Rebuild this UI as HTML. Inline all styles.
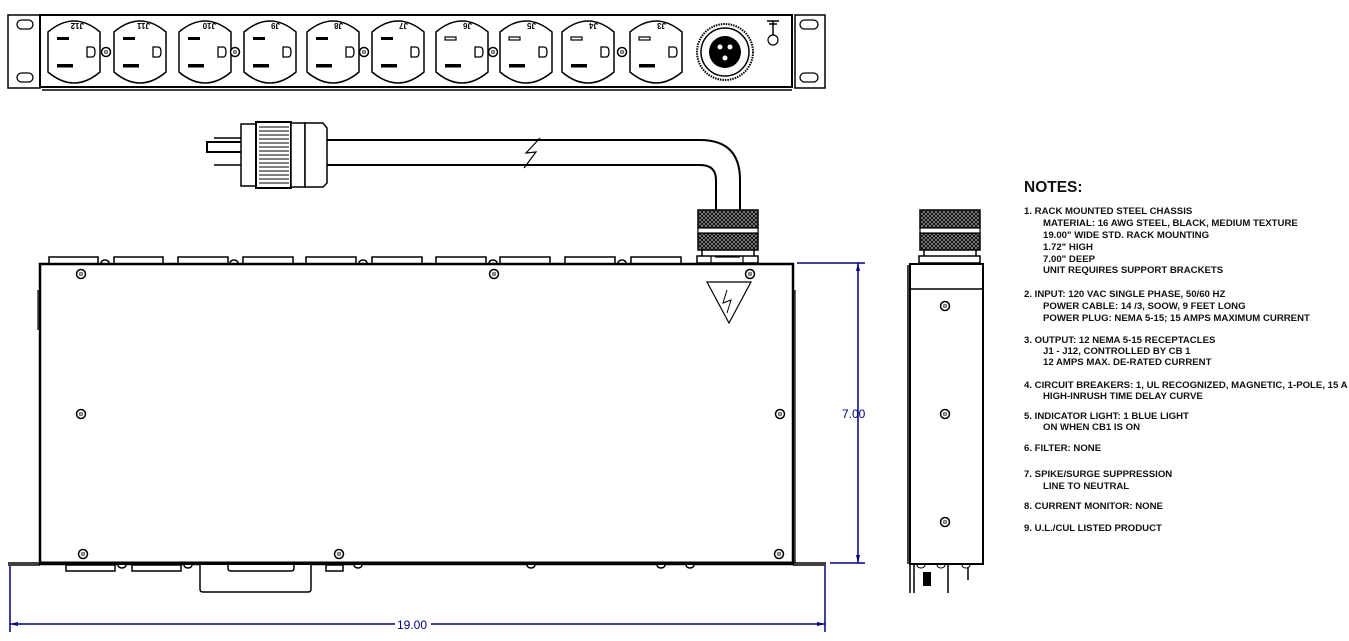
<!DOCTYPE html>
<html><head><meta charset="utf-8"><style>
html,body{margin:0;padding:0;background:#fff;}
svg{display:block;}
.n{font-family:"Liberation Sans",Arial,sans-serif;font-weight:bold;font-size:9.6px;fill:#111;}
</style></head><body>
<svg width="1349" height="641" viewBox="0 0 1349 641" xmlns="http://www.w3.org/2000/svg">
<defs>
<g id="out">
<path d="M-26,-20 Q0,-42 26,-20 L26,20 Q0,42 -26,20 Z" fill="#fff" stroke="#000" stroke-width="1.5"/>
<rect x="-17" y="-15" width="12" height="3" fill="#000"/>
<rect x="-17" y="12" width="16" height="3.5" fill="#000"/>
<path d="M13,-5 L18,-5 Q21,-5 21,0 Q21,5 18,5 L13,5 Z" fill="none" stroke="#000" stroke-width="1.3"/>
</g>
<g id="out2">
<path d="M-26,-20 Q0,-42 26,-20 L26,20 Q0,42 -26,20 Z" fill="#fff" stroke="#000" stroke-width="1.5"/>
<rect x="-17" y="-15" width="11" height="3" fill="none" stroke="#000" stroke-width="1.2"/>
<rect x="-17" y="12" width="16" height="3.5" fill="#000"/>
<path d="M13,-5 L18,-5 Q21,-5 21,0 Q21,5 18,5 L13,5 Z" fill="none" stroke="#000" stroke-width="1.3"/>
</g>
<g id="scr"><circle r="4.5" fill="#fff" stroke="#000" stroke-width="1.5"/><circle r="2" fill="#000"/><path d="M-2,0H2M0,-2V2" stroke="#fff" stroke-width="0.8"/></g>
<pattern id="knurl" width="4" height="4" patternUnits="userSpaceOnUse"><rect width="4" height="4" fill="#000"/><path d="M0,0L4,4M4,0L0,4" stroke="#888" stroke-width="0.8"/></pattern>
</defs>
<g fill="none" stroke="#000" stroke-width="2">
<!-- top panel -->
<rect x="8" y="15" width="32" height="73" stroke-width="1.5"/>
<rect x="17" y="20" width="16" height="9" rx="4.5" stroke-width="1.3"/>
<rect x="17" y="73" width="16" height="9" rx="4.5" stroke-width="1.3"/>
<rect x="40" y="15" width="752" height="72"/>
<path d="M42,90H792" stroke-width="1.5"/>
<rect x="795" y="15" width="30" height="73" stroke-width="1.5"/>
<rect x="800" y="20" width="18" height="9" rx="4.5" stroke-width="1.3"/>
<rect x="800" y="73" width="18" height="9" rx="4.5" stroke-width="1.3"/>
</g>
<use href="#out" x="74" y="52"/><use href="#out" x="140" y="52"/><use href="#out" x="205" y="52"/>
<use href="#out" x="270" y="52"/><use href="#out" x="333" y="52"/><use href="#out" x="398" y="52"/>
<use href="#out2" x="462" y="52"/><use href="#out2" x="526" y="52"/><use href="#out2" x="588" y="52"/><use href="#out2" x="656" y="52"/>
<use href="#scr" x="106" y="52"/><use href="#scr" x="235" y="52"/><use href="#scr" x="364" y="52"/><use href="#scr" x="493" y="52"/><use href="#scr" x="622" y="52"/>
<g font-family="Liberation Sans,sans-serif" font-size="8" font-weight="bold" fill="#000">
<text transform="translate(84,23) rotate(180)">J12</text><text transform="translate(150,23) rotate(180)">J11</text>
<text transform="translate(216,23) rotate(180)">J10</text><text transform="translate(280,23) rotate(180)">J9</text>
<text transform="translate(343,23) rotate(180)">J8</text><text transform="translate(408,23) rotate(180)">J7</text>
<text transform="translate(472,23) rotate(180)">J6</text><text transform="translate(536,23) rotate(180)">J5</text>
<text transform="translate(598,23) rotate(180)">J4</text><text transform="translate(666,23) rotate(180)">J3</text>
</g>
<circle cx="725" cy="52" r="28" fill="#fff" stroke="#000" stroke-width="2" stroke-dasharray="1.5 1"/>
<circle cx="725" cy="52" r="24" fill="#fff" stroke="#000" stroke-width="1.5"/>
<circle cx="725" cy="52" r="16" fill="#000"/>
<circle cx="720" cy="47" r="2.5" fill="#fff"/><circle cx="730" cy="47" r="2.5" fill="#fff"/><circle cx="725" cy="58" r="2.5" fill="#fff"/>
<path d="M767,21H779M769,24H777M773,21V36" stroke="#000" stroke-width="1.5"/>
<circle cx="773" cy="40" r="5" fill="#fff" stroke="#000" stroke-width="1.2"/>
<!-- plug & cable -->
<g fill="#fff" stroke="#000" stroke-width="1.5">
<rect x="207" y="142" width="35" height="10" stroke-width="2"/>
<path d="M214,138H242M214,165H242"/>
<rect x="241" y="124" width="16" height="62"/>
<rect x="256" y="122" width="35" height="66" stroke-width="2"/>
<rect x="291" y="123" width="14" height="64"/>
<path d="M305,123H323L327,128V183L323,187H305Z"/>
</g>
<g stroke="#000" stroke-width="1">
<path d="M259,127H289M259,131H289M259,135H289M259,139H289M259,143H289M259,147H289M259,151H289M259,155H289M259,159H289M259,163H289M259,167H289M259,171H289M259,175H289M259,179H289M259,183H289"/>
</g>
<path d="M327,140H700Q740,140 740,180V210M327,165H700Q716,165 716,180V210" fill="none" stroke="#000" stroke-width="2"/>
<path d="M524,168L536,152L526,153L540,138" fill="none" stroke="#000" stroke-width="1.2"/>
<rect x="523" y="143" width="1" height="1" fill="#fff"/>
<!-- gland -->
<rect x="698" y="210" width="60" height="18" fill="url(#knurl)" stroke="#000" stroke-width="1.5"/>
<rect x="698" y="233" width="60" height="17" fill="url(#knurl)" stroke="#000" stroke-width="1.5"/>
<rect x="698" y="228" width="60" height="5" fill="#fff" stroke="#000" stroke-width="1.2"/>
<path d="M702,250V257M754,250V257" stroke="#000" stroke-width="1.5"/>
<rect x="697" y="256" width="61" height="7" fill="#fff" stroke="#000" stroke-width="1.5"/>
<path d="M711,256V263M743,256V263M715,257H740" stroke="#000" stroke-width="1.2"/>
<!-- front view -->
<g fill="#fff" stroke="#000" stroke-width="1.5">
<rect x="49" y="257" width="49" height="7"/><rect x="114" y="257" width="49" height="7"/>
<rect x="178" y="257" width="50" height="7"/><rect x="243" y="257" width="50" height="7"/>
<rect x="306" y="257" width="50" height="7"/><rect x="372" y="257" width="50" height="7"/>
<rect x="436" y="257" width="50" height="7"/><rect x="500" y="257" width="50" height="7"/>
<rect x="565" y="257" width="50" height="7"/><rect x="631" y="257" width="50" height="7"/>
<path d="M101,263a4,3 0 0 1 8,0M230,263a4,3 0 0 1 8,0M359,263a4,3 0 0 1 8,0M489,263a4,3 0 0 1 8,0M618,263a4,3 0 0 1 8,0"/>
</g>
<rect x="40" y="264" width="753" height="300" fill="#fff" stroke="#000" stroke-width="2.5"/>
<path d="M38,290V330M795,290V563" stroke="#000" stroke-width="1.2"/>
<path d="M8,565H40M793,565H826M8,563H40M793,563H826" stroke="#000" stroke-width="1.5"/>
<path d="M40,563H793" stroke="#000" stroke-width="3"/>
<g fill="#fff" stroke="#000" stroke-width="1.5">
<rect x="66" y="565" width="49" height="6"/><rect x="132" y="565" width="49" height="6"/>
<path d="M200,565V589Q200,592 203,592H308Q311,592 311,589V565"/>
<path d="M228,565V568Q228,571 231,571H291Q294,571 294,568V565"/>
<rect x="326" y="565" width="17" height="6"/>
<path d="M118,565a4,3 0 0 0 8,0M184,565a4,3 0 0 0 8,0M354,565a4,3 0 0 0 8,0M527,565a4,3 0 0 0 8,0M657,565a4,3 0 0 0 8,0M686,565a4,3 0 0 0 8,0"/>
</g>
<use href="#scr" x="81" y="274"/><use href="#scr" x="494" y="274"/>
<use href="#scr" x="81" y="414"/><use href="#scr" x="780" y="414"/>
<use href="#scr" x="83" y="554"/><use href="#scr" x="339" y="554"/><use href="#scr" x="779" y="554"/>
<use href="#scr" x="750" y="274"/>
<path d="M707,282L751,282L729,323Z" fill="#fff" stroke="#000" stroke-width="1.2"/>
<path d="M727,290L723,303L731,300L727,313" fill="none" stroke="#000" stroke-width="1"/>
<!-- dimensions -->
<g stroke="#000080" stroke-width="1.5" fill="none">
<path d="M797,263H865M858,263V563M830,563H865M10,566V632M825,566V632M10,624H395M431,624H825"/>
</g>
<path d="M858,263l-2,8h4zM858,563l-2,-8h4zM10,624l8,-2v4zM825,624l-8,-2v4z" fill="#000080"/>
<text x="842" y="418" font-family="Liberation Sans,sans-serif" font-size="12" fill="#000080">7.00</text>
<text x="397" y="629" font-family="Liberation Sans,sans-serif" font-size="12" fill="#000080">19.00</text>
<!-- side view -->
<rect x="920" y="210" width="60" height="18" fill="url(#knurl)" stroke="#000" stroke-width="1.5"/>
<rect x="920" y="233" width="60" height="17" fill="url(#knurl)" stroke="#000" stroke-width="1.5"/>
<rect x="920" y="228" width="60" height="5" fill="#fff" stroke="#000" stroke-width="1.2"/>
<path d="M924,250V257M976,250V257" stroke="#000" stroke-width="1.5"/>
<rect x="919" y="256" width="61" height="7" fill="#fff" stroke="#000" stroke-width="1.5"/>
<rect x="910" y="264" width="73" height="300" fill="#fff" stroke="#000" stroke-width="2"/>
<path d="M908,265V564M911,289H983" stroke="#000" stroke-width="1.5"/>
<use href="#scr" x="945" y="306"/><use href="#scr" x="945" y="414"/><use href="#scr" x="945" y="522"/>
<path d="M910,565V593M914,565V593M948,565V593M968,565V580" stroke="#000" stroke-width="1.5"/>
<rect x="923" y="572" width="8" height="14" fill="#000"/>
<path d="M917,565a4,3 0 0 0 8,0M937,565a4,3 0 0 0 8,0M962,565a4,3 0 0 0 8,0" fill="#fff" stroke="#000"/>
<!-- notes -->
<text x="1024" y="192" font-family="Liberation Sans,Arial,sans-serif" font-weight="bold" font-size="15.5" fill="#111">NOTES:</text>
<text class="n" x="1024" y="214">1.  RACK MOUNTED STEEL CHASSIS</text>
<text class="n" x="1043" y="226">MATERIAL: 16 AWG STEEL, BLACK, MEDIUM TEXTURE</text>
<text class="n" x="1043" y="238">19.00" WIDE STD. RACK MOUNTING</text>
<text class="n" x="1043" y="250">1.72" HIGH</text>
<text class="n" x="1043" y="262">7.00" DEEP</text>
<text class="n" x="1043" y="273">UNIT REQUIRES SUPPORT BRACKETS</text>
<text class="n" x="1024" y="297">2.  INPUT:  120 VAC SINGLE PHASE, 50/60 HZ</text>
<text class="n" x="1043" y="309">POWER CABLE:  14 /3, SOOW, 9 FEET LONG</text>
<text class="n" x="1043" y="321">POWER PLUG:   NEMA 5-15; 15 AMPS MAXIMUM CURRENT</text>
<text class="n" x="1024" y="343">3.  OUTPUT:  12 NEMA  5-15 RECEPTACLES</text>
<text class="n" x="1043" y="354">J1 - J12, CONTROLLED BY CB 1</text>
<text class="n" x="1043" y="365">12 AMPS MAX. DE-RATED CURRENT</text>
<text class="n" x="1024" y="388">4.  CIRCUIT BREAKERS: 1, UL RECOGNIZED,  MAGNETIC, 1-POLE, 15 A</text>
<text class="n" x="1043" y="399">HIGH-INRUSH TIME DELAY CURVE</text>
<text class="n" x="1024" y="419">5.  INDICATOR LIGHT: 1 BLUE LIGHT</text>
<text class="n" x="1043" y="430">ON WHEN CB1 IS ON</text>
<text class="n" x="1024" y="451">6.  FILTER:  NONE</text>
<text class="n" x="1024" y="477">7.  SPIKE/SURGE SUPPRESSION</text>
<text class="n" x="1043" y="489">LINE TO NEUTRAL</text>
<text class="n" x="1024" y="509">8.  CURRENT MONITOR:  NONE</text>
<text class="n" x="1024" y="531">9.  U.L./CUL  LISTED PRODUCT</text>
</svg>
</body></html>
